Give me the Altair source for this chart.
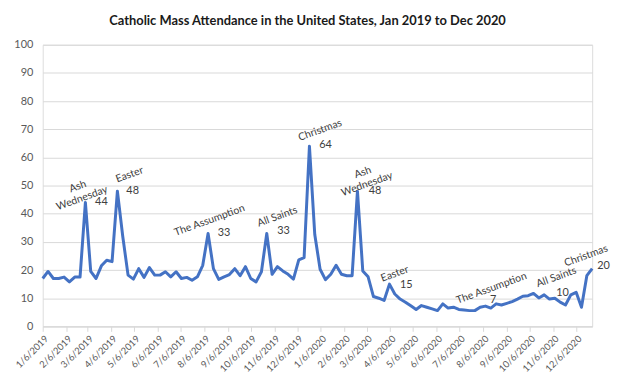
import altair as alt
import pandas as pd

# Weekly observations, first Sunday of 2019 to last Sunday of 2020
weeks = pd.date_range("2019-01-06", periods=104, freq="7D").strftime("%Y-%m-%dT00:00:00").tolist()

attendance = [
    17, 19.5, 17, 17, 17.5, 15.8, 17.5, 17.5, 44, 19.5,
    17, 21.5, 23.5, 23, 48, 32, 18.2, 16.8, 20.5, 17.4,
    20.9, 18.2, 18.2, 19.4, 17.6, 19.4, 17, 17.4, 16.4, 17.6,
    21.7, 33, 20.5, 16.7, 17.6, 18.4, 20.5, 18, 21.2, 17,
    15.8, 19.4, 33, 18.5, 21.2, 19.7, 18.5, 16.8, 23.6, 24.4,
    64, 32.6, 20.3, 16.6, 18.5, 21.7, 18.5, 18, 18, 48,
    19.7, 17.6, 10.6, 10, 9.2, 15, 11.5, 9.7, 8.6, 7.3,
    6, 7.4, 6.8, 6.2, 5.6, 8, 6.5, 6.8, 6, 5.8,
    5.6, 5.6, 6.8, 7.2, 6.5, 8, 7.6, 8.2, 8.8, 9.7,
    10.7, 10.9, 11.7, 10.1, 11.2, 9.7, 10, 8.6, 7.6, 11.2,
    12.1, 6.8, 18, 20.5,
]

tick_months = [(2019, m) for m in range(1, 13)] + [(2020, m) for m in range(1, 13)]

event_names = ["Ash\nWednesday", "Easter", "The Assumption", "All Saints", "Christmas",
               "Ash\nWednesday", "Easter", "The Assumption", "All Saints", "Christmas"]
event_dates = ["2019-02-21", "2019-04-30", "2019-08-13", "2019-11-10", "2020-01-05",
               "2020-03-01", "2020-04-12", "2020-08-17", "2020-11-10", "2020-12-19"]
event_heights = [49.6, 53.8, 37.6, 38.9, 69.6, 54.6, 18.6, 13.5, 17.4, 25]

peak_labels = ["44", "48", "33", "33", "64", "48", "15", "7", "10", "20"]
peak_dates = ["2019-03-24", "2019-05-04", "2019-09-01", "2019-11-18", "2020-01-12",
              "2020-03-17", "2020-04-27", "2020-08-19", "2020-11-18", "2021-01-11"]
peak_heights = [44, 48.1, 33, 33.7, 64.3, 48.1, 14.7, 9.5, 11.8, 21.3]

df = pd.DataFrame({"week": weeks, "attendance": attendance})
ev = pd.DataFrame({"week": [d + "T00:00:00" for d in event_dates], "attendance": event_heights, "label": event_names})
pk = pd.DataFrame({"week": [d + "T00:00:00" for d in peak_dates], "attendance": peak_heights, "label": peak_labels})

tick_vals = [alt.DateTime(year=y, month=m, date=6) for y, m in tick_months]

x_enc = alt.X(
    "week:T",
    scale=alt.Scale(domain=[alt.DateTime(year=2019, month=1, date=6), alt.DateTime(year=2020, month=12, date=27)]),
    axis=alt.Axis(
        values=tick_vals, format="%-m/%-d/%Y", labelAngle=-45, title=None, grid=False,
        domainColor="#d9d9d9", tickColor="#d9d9d9", tickSize=5, labelColor="#595959",
        labelFontSize=9.5, labelFont="Lato", labelPadding=2, labelOverlap=False, labelFlush=False,
    ),
)
y_enc = alt.Y(
    "attendance:Q",
    scale=alt.Scale(domain=[0, 100], nice=False),
    axis=alt.Axis(
        values=list(range(0, 101, 10)), grid=True, gridColor="#d9d9d9", ticks=False, domain=False,
        labelPadding=10, title=None, labelColor="#595959", labelFontSize=11, labelFont="Lato",
        labelOverlap=False,
    ),
)

line = alt.Chart(df).mark_line(color="#4472C4", strokeWidth=3, strokeJoin="round").encode(x=x_enc, y=y_enc)

events = alt.Chart(ev).mark_text(
    angle=340, fontSize=10.5, font="Lato", color="#404040", lineBreak="\n", align="center", baseline="middle"
).encode(x=x_enc, y=y_enc, text="label:N")

peaks = alt.Chart(pk).mark_text(
    fontSize=11, font="Lato", color="#404040", align="center", baseline="middle"
).encode(x=x_enc, y=y_enc, text="label:N")

chart = alt.layer(line, events, peaks).properties(
    width=554,
    height=284,
    padding={"left": 35, "top": 35.5, "right": 20, "bottom": 50},
    autosize=alt.AutoSizeParams(type="none"),
    title=alt.TitleParams(
        "Catholic Mass Attendance in the United States, Jan 2019 to Dec 2020",
        font="Lato", fontSize=13, fontWeight="bold", color="#1a1a1a",
        anchor="middle", frame="group", offset=11, dx=-10,
    ),
).configure_view(stroke=None).configure(background="white")

chart.save("out.html", embed_options={"renderer": "svg", "actions": False})
